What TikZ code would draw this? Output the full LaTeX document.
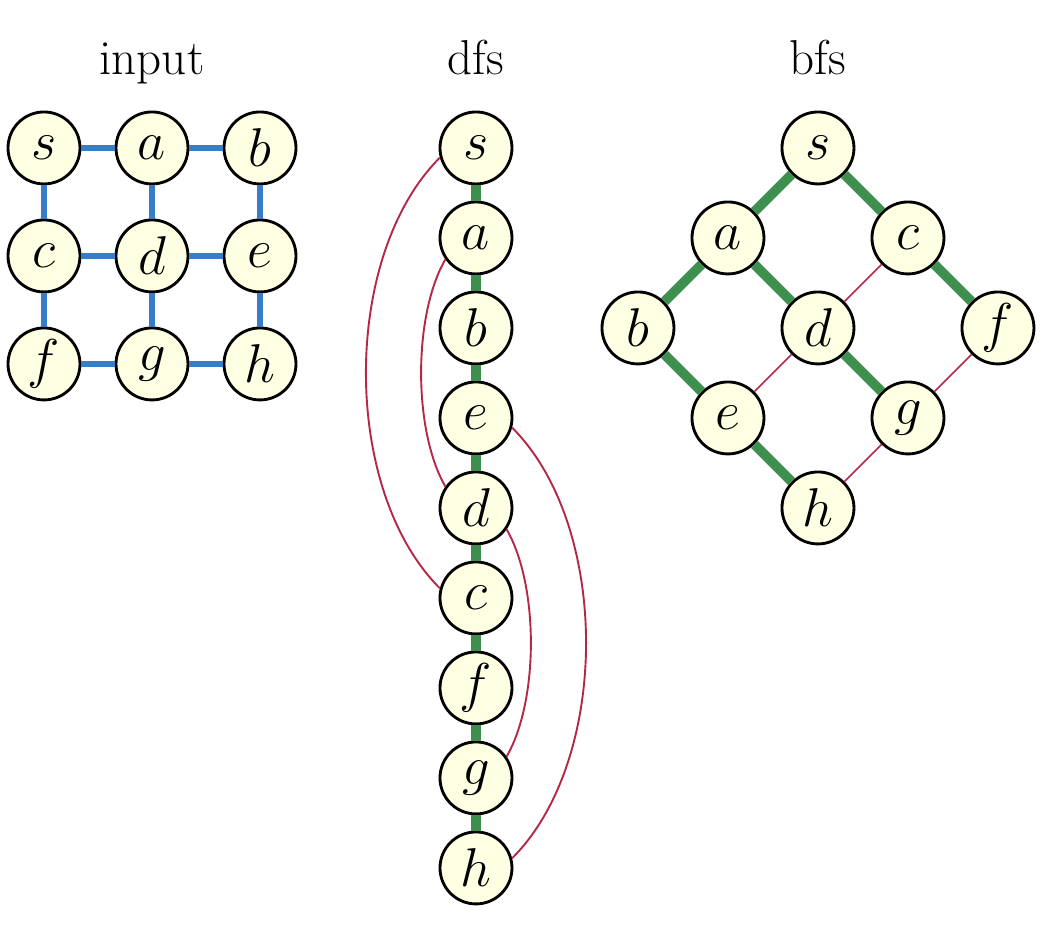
\documentclass[tikz,border=0pt]{standalone}
\usetikzlibrary{positioning}
\definecolor{vertexfill}{RGB}{255,255,228}
\definecolor{gridblue}{RGB}{55,125,200}
\definecolor{treegreen}{RGB}{62,142,78}
\definecolor{backred}{RGB}{180,40,70}

\begin{document}
\begin{tikzpicture}[
    vertex/.style={circle, draw=black, line width=0.9pt, fill=vertexfill,
      minimum size=0.8cm, inner sep=0pt, font=\fontsize{18}{18}\selectfont},
    title/.style={anchor=base, font=\fontsize{15.5}{15.5}\selectfont},
    gridedge/.style={gridblue, line width=1.8pt},
    treeedge/.style={treegreen, line width=3.1pt},
    backedge/.style={backred, line width=0.6pt},
    crossedge/.style={backred, line width=0.5pt}
  ]
    \useasboundingbox (-5.289,1.644) rectangle (6.467,-8.8);

    % titles
    \node[title] (tinput) at (-3.6,0.82) {input};
    \node[title] (tdfs) at (0,0.82) {dfs};
    \node[title] (tbfs) at (3.8,0.82) {bfs};

    % input grid
    \foreach \n/\x/\y in {s/0/0, a/1/0, b/2/0, c/0/1, d/1/1, e/2/1, f/0/2, g/1/2, h/2/2}
      \node[vertex] (i\n) at (-4.8+1.2*\x, -1.2*\y) {$\n$};
    \foreach \u/\v in {s/a, a/b, c/d, d/e, f/g, g/h, s/c, c/f, a/d, d/g, b/e, e/h}
      \draw[gridedge] (i\u) -- (i\v);

    % dfs tree
    \foreach \n [count=\k from 0] in {s,a,b,e,d,c,f,g,h}
      \node[vertex] (d\n) at (0,-\k) {$\n$};
    \foreach \u/\v in {s/a, a/b, b/e, e/d, d/c, c/f, f/g, g/h}
      \draw[treeedge] (d\u) -- (d\v);
    % non-tree edges
    \draw[backedge] (ds.195) to[out=225, in=135, looseness=0.83] (dc.165);
    \draw[backedge] (da.215) to[out=240, in=120, looseness=0.73] (dd.145);
    \draw[backedge] (de.-15) to[out=-45, in=45, looseness=0.83] (dh.15);
    \draw[backedge] (dd.-35) to[out=-60, in=60, looseness=0.73] (dg.35);

    % bfs tree
    \foreach \n/\x/\y in {s/3.8/0, a/2.8/-1, c/4.8/-1, b/1.8/-2, d/3.8/-2,
                          f/5.8/-2, e/2.8/-3, g/4.8/-3, h/3.8/-4}
      \node[vertex] (b\n) at (\x,\y) {$\n$};
    \foreach \u/\v in {s/a, s/c, a/b, a/d, c/f, b/e, d/g, e/h}
      \draw[treeedge] (b\u) -- (b\v);
    \foreach \u/\v in {c/d, d/e, f/g, g/h}
      \draw[crossedge] (b\u) -- (b\v);
\end{tikzpicture}
\end{document}
